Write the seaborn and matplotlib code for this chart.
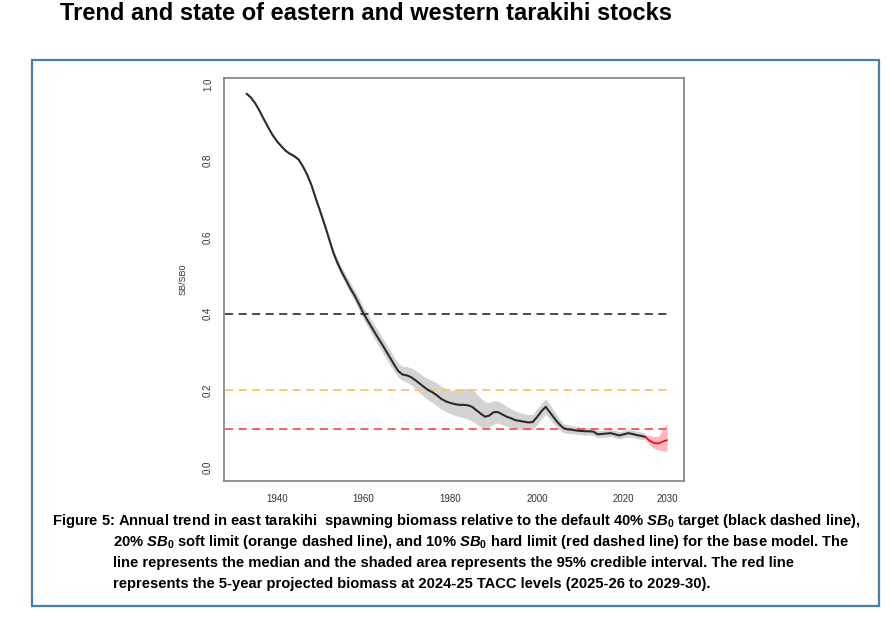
import matplotlib
matplotlib.use("Agg")
import matplotlib.pyplot as plt
import seaborn as sns
import pandas as pd
from matplotlib.patches import Rectangle

# ---------------- data ----------------
hist_years = list(range(1933, 2026))
hist_median = [
    0.975, 0.965, 0.950, 0.930, 0.908, 0.887, 0.867,
    0.851, 0.838, 0.826, 0.818, 0.812, 0.803, 0.785, 0.763, 0.735, 0.700,
    0.667, 0.633, 0.597, 0.560, 0.532, 0.508, 0.487, 0.465, 0.446, 0.424,
    0.400, 0.381, 0.362, 0.343, 0.325, 0.306, 0.287, 0.268, 0.250, 0.241,
    0.239, 0.234, 0.226, 0.217, 0.208, 0.200, 0.194, 0.186, 0.177, 0.171,
    0.167, 0.164, 0.162, 0.162, 0.161, 0.157, 0.148, 0.139, 0.131, 0.134,
    0.143, 0.143, 0.137, 0.131, 0.127, 0.122, 0.120, 0.118, 0.116, 0.117,
    0.130, 0.145, 0.157, 0.142, 0.127, 0.113, 0.102, 0.098, 0.097, 0.095,
    0.094, 0.093, 0.093, 0.092, 0.085, 0.086, 0.087, 0.088, 0.085, 0.082,
    0.085, 0.088, 0.086, 0.083, 0.081, 0.078,
]
hist_lower = [
    0.972, 0.962, 0.947, 0.927, 0.905, 0.884, 0.864,
    0.848, 0.835, 0.823, 0.815, 0.808, 0.799, 0.781, 0.758, 0.730, 0.694,
    0.660, 0.625, 0.588, 0.550, 0.521, 0.496, 0.474, 0.451, 0.431, 0.408,
    0.384, 0.364, 0.344, 0.324, 0.306, 0.287, 0.268, 0.250, 0.234, 0.225,
    0.221, 0.214, 0.204, 0.193, 0.183, 0.174, 0.167, 0.159, 0.150, 0.144,
    0.139, 0.135, 0.131, 0.128, 0.125, 0.120, 0.112, 0.105, 0.100, 0.104,
    0.112, 0.114, 0.110, 0.106, 0.103, 0.100, 0.099, 0.098, 0.097, 0.098,
    0.110, 0.124, 0.137, 0.124, 0.110, 0.098, 0.090, 0.087, 0.087, 0.085,
    0.084, 0.083, 0.083, 0.082, 0.076, 0.077, 0.078, 0.079, 0.076, 0.073,
    0.076, 0.078, 0.077, 0.074, 0.072, 0.070,
]
hist_upper = [
    0.978, 0.968, 0.953, 0.933, 0.911, 0.890, 0.870,
    0.854, 0.841, 0.829, 0.821, 0.816, 0.807, 0.789, 0.768, 0.740, 0.706,
    0.674, 0.641, 0.606, 0.570, 0.543, 0.520, 0.500, 0.479, 0.461, 0.440,
    0.416, 0.398, 0.380, 0.362, 0.344, 0.325, 0.306, 0.287, 0.270, 0.262,
    0.262, 0.258, 0.252, 0.244, 0.236, 0.230, 0.224, 0.218, 0.210, 0.204,
    0.200, 0.200, 0.202, 0.204, 0.205, 0.203, 0.192, 0.180, 0.170, 0.168,
    0.173, 0.172, 0.165, 0.158, 0.152, 0.146, 0.142, 0.139, 0.137, 0.137,
    0.151, 0.166, 0.178, 0.162, 0.145, 0.128, 0.114, 0.110, 0.108, 0.106,
    0.104, 0.103, 0.103, 0.102, 0.095, 0.096, 0.097, 0.098, 0.095, 0.092,
    0.095, 0.098, 0.096, 0.093, 0.091, 0.088,
]

proj_years = [2025, 2026, 2027, 2028, 2029, 2030]
proj_median = [0.078, 0.068, 0.062, 0.061, 0.066, 0.070]
proj_lower = [0.072, 0.057, 0.048, 0.044, 0.042, 0.040]
proj_upper = [0.084, 0.081, 0.079, 0.080, 0.097, 0.114]

ref_levels = [0.4, 0.2, 0.1]
ref_colors = ["#3c3c3c", "#ffc460", "#ff5050"]

x_ticks = [1940, 1960, 1980, 2000, 2020, 2030]
y_ticks = [0.0, 0.2, 0.4, 0.6, 0.8, 1.0]

title_text = "Trend and state of eastern and western tarakihi stocks"
caption_lines = [
    r"Figure 5: Annual trend in east tarakihi  spawning biomass relative to the default 40% $\mathit{SB_0}$ target (black dashed line),",
    r"20% $\mathit{SB_0}$ soft limit (orange dashed line), and 10% $\mathit{SB_0}$ hard limit (red dashed line) for the base model. The",
    r"line represents the median and the shaded area represents the 95% credible interval. The red line",
    r"represents the 5-year projected biomass at 2024-25 TACC levels (2025-26 to 2029-30).",
]

hist = pd.DataFrame({"year": hist_years, "median": hist_median,
                     "lower": hist_lower, "upper": hist_upper})
proj = pd.DataFrame({"year": proj_years, "median": proj_median,
                     "lower": proj_lower, "upper": proj_upper})

# ---------------- style ----------------
sns.set_style("white")
plt.rcParams['font.family'] = ['Liberation Sans', 'DejaVu Sans']
plt.rcParams['mathtext.fontset'] = 'custom'
plt.rcParams['mathtext.it'] = 'Liberation Sans:italic:bold'
plt.rcParams['mathtext.rm'] = 'Liberation Sans:bold'
plt.rcParams['mathtext.bf'] = 'Liberation Sans:bold'

W, H = 895, 625
fig = plt.figure(figsize=(W / 100, H / 100), dpi=100)
fig.patch.set_facecolor("white")

ax = fig.add_axes([224 / W, 1 - 481 / H, (684 - 224) / W, (481 - 78) / H])

# bands
ax.fill_between(hist["year"], hist["lower"], hist["upper"], color="#d3d3d3", lw=0, zorder=1)
ax.fill_between(proj["year"], proj["lower"], proj["upper"], color="#ffb6c1", lw=0, zorder=1)

# reference lines
x_left = 1928.0
for lev, col in zip(ref_levels, ref_colors):
    ax.plot([x_left, 2030], [lev, lev], color=col, lw=1.3, dashes=(4.5, 3), zorder=2)

# median lines
sns.lineplot(data=hist, x="year", y="median", color="#2b2b2b", lw=1.5, ax=ax, zorder=3)
sns.lineplot(data=proj, x="year", y="median", color="#ff0000", lw=1.2, ax=ax, zorder=3)

ax.set_xlim(1927.8, 2033.9)
ax.set_ylim(-0.037, 1.016)
ax.set_xticks(x_ticks)
ax.set_xticklabels([str(t) for t in x_ticks])
ax.set_yticks(y_ticks)
ax.set_yticklabels([f"{t:.1f}" for t in y_ticks], rotation=90, va="center")
ax.tick_params(axis="both", direction="out", length=4, width=0.9, color="#666666",
               labelsize=7, labelcolor="#333333", pad=5)
ax.tick_params(axis="y", pad=4)
for s in ax.spines.values():
    s.set_color("#808080")
    s.set_linewidth(1.2)
ax.set_xlabel("")
ax.set_ylabel("SB/SB0", fontsize=6.5, color="#333333", labelpad=11)

# outer frame
fig.patches.append(Rectangle((32 / W, 1 - 606 / H), (879 - 32) / W, (606 - 60) / H,
                             transform=fig.transFigure, fill=False,
                             edgecolor="#4a7ea6", lw=1.6, zorder=0))

# title
fig.text(60 / W, 1 - 13 / H, title_text, fontsize=17, fontweight="bold",
         color="black", ha="left", va="center")

# caption
cap_font = ['Liberation Sans', 'DejaVu Sans']
cap_x = [52, 113, 113, 113]
cap_y = [521, 542, 563, 584]
for line, cx, cy in zip(caption_lines, cap_x, cap_y):
    fig.text(cx / W, 1 - cy / H, line, fontsize=10.65, fontweight="bold",
             family=cap_font, color="black", ha="left", va="center")

fig.savefig("out.png", dpi=100, facecolor="white")
